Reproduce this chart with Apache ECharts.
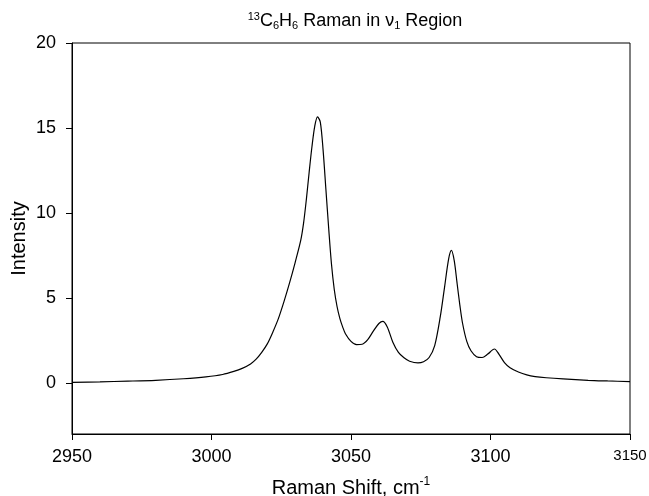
<!DOCTYPE html>
<html>
<head>
<meta charset="utf-8">
<script src="https://cdn.jsdelivr.net/npm/echarts@6/dist/echarts.min.js"></script>
<style>
  html, body { margin: 0; padding: 0; background: #fff; }
  #chart { width: 649px; height: 496px; }
</style>
</head>
<body>
<div id="chart"></div>
<script>
// Raman shift (cm-1) sampled along the trace
const shifts = [2950, 2960, 2970, 2980, 2990, 2998, 3004, 3008, 3011, 3014, 3016, 3018, 3020, 3022, 3024, 3026, 3028, 3030, 3032, 3033, 3034, 3035, 3036, 3037, 3038, 3039, 3040, 3041, 3042, 3043, 3044, 3045, 3046, 3047, 3048, 3050, 3052, 3054, 3056, 3058, 3060, 3061.4, 3063, 3065, 3067, 3069, 3071, 3074, 3076, 3078, 3080, 3082, 3083.5, 3085, 3086, 3087, 3088, 3089, 3090, 3091.5, 3093, 3095, 3097, 3099, 3101.4, 3103, 3105, 3107, 3110, 3113, 3116, 3120, 3126, 3135, 3142, 3150];
// Intensity at each shift
const intensity = [0.04, 0.07, 0.11, 0.16, 0.25, 0.36, 0.5, 0.68, 0.86, 1.12, 1.4, 1.8, 2.3, 3.0, 3.8, 4.8, 5.9, 7.1, 8.4, 9.4, 10.8, 12.4, 13.9, 15.1, 15.65, 15.35, 13.7, 11.4, 9.1, 7.0, 5.5, 4.5, 3.8, 3.3, 2.9, 2.45, 2.26, 2.28, 2.55, 3.05, 3.5, 3.63, 3.3, 2.4, 1.8, 1.48, 1.28, 1.18, 1.25, 1.5, 2.2, 3.9, 5.6, 7.3, 7.8, 7.2, 5.9, 4.6, 3.5, 2.45, 1.9, 1.55, 1.5, 1.7, 2.0, 1.7, 1.2, 0.9, 0.65, 0.48, 0.38, 0.31, 0.24, 0.16, 0.12, 0.08];
// Tick labels on both axes
const xTicks = [2950, 3000, 3050, 3100, 3150];
const yTicks = [0, 5, 10, 15, 20];

const font = 'Liberation Sans, Arial, sans-serif';
const chart = echarts.init(document.getElementById('chart'));

const option = {
    animation: false,
    title: {
        text: '{sup|13}C{sub|6}H{sub|6} Raman in \u03bd{sub|1} Region',
        left: 350, top: 6, textAlign: 'center',
        textStyle: {
            fontFamily: font, fontSize: 18, fontWeight: 'normal', color: '#000',
            rich: {
                sup: { fontFamily: font, fontSize: 11, color: '#000', padding: [0, 0, 9, 0] },
                sub: { fontFamily: font, fontSize: 11, color: '#000', padding: [9, 0, 0, 0] }
            }
        }
    },
    grid: {
        left: 72, right: 19, top: 43, bottom: 62,
        outerBoundsMode: 'none',
        show: true, borderColor: '#000', borderWidth: 1
    },
    xAxis: {
        type: 'value', min: 2950, max: 3150,
        name: 'Raman Shift, cm{sup|-1}', nameLocation: 'middle', nameGap: 42,
        nameMoveOverlap: false,
        nameTextStyle: {
            fontFamily: font, fontSize: 20, color: '#000',
            rich: { sup: { fontFamily: font, fontSize: 12, color: '#000', padding: [0, 0, 12, 0] } }
        },
        axisLine: { onZero: false, lineStyle: { color: '#000' } },
        axisTick: { show: true, inside: false, length: 6, lineStyle: { color: '#000', width: 1 }, customValues: xTicks },
        axisLabel: {
            fontFamily: font, fontSize: 18, color: '#000', margin: 14, customValues: xTicks,
            formatter: v => v === 3150 ? '{s|3150}' : String(v),
            rich: { s: { fontFamily: font, fontSize: 15, color: '#000' } }
        },
        splitLine: { show: false }
    },
    yAxis: {
        type: 'value', min: -3, max: 20,
        name: 'Intensity', nameLocation: 'middle', nameGap: 43,
        nameMoveOverlap: false,
        nameTextStyle: { fontFamily: font, fontSize: 20, color: '#000' },
        axisLine: { onZero: false, lineStyle: { color: '#000' } },
        axisTick: { length: 6, lineStyle: { color: '#000' }, customValues: yTicks },
        axisLabel: { fontFamily: font, fontSize: 18, color: '#000', margin: 16, customValues: yTicks },
        splitLine: { show: false }
    },
    series: [{
        type: 'line',
        data: shifts.map((x, i) => [x, intensity[i]]),
        showSymbol: false,
        smooth: 0.3,
        lineStyle: { color: '#000', width: 1.2 }
    }]
};

chart.setOption(option);
</script>
</body>
</html>
